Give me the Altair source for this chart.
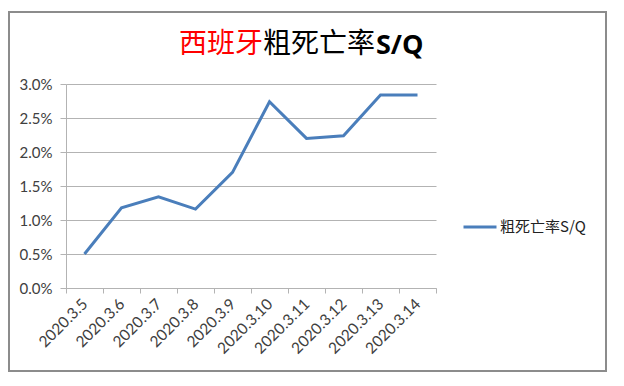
import altair as alt
import pandas as pd

dates = ["2020.3.5", "2020.3.6", "2020.3.7", "2020.3.8", "2020.3.9",
         "2020.3.10", "2020.3.11", "2020.3.12", "2020.3.13", "2020.3.14"]
rates = [0.0050, 0.0118, 0.0134, 0.0116, 0.0170,
         0.0274, 0.0220, 0.0224, 0.0284, 0.0284]
series_name = "粗死亡率S/Q"
y_ticks = [0, 0.005, 0.01, 0.015, 0.02, 0.025, 0.03]

df = pd.DataFrame({"date": dates, "rate": rates, "series": [series_name] * len(dates)})

W, H = 370, 204
LBL = "#404040"
GRID = "#b3b3b3"
CJK = "Noto Sans CJK SC"

line = alt.Chart(df).mark_line(strokeWidth=3).encode(
    x=alt.X("date:N", sort=None, bandPosition=0.5,
            scale=alt.Scale(type="band", paddingInner=0, paddingOuter=0),
            axis=alt.Axis(title=None, labelAngle=-45, labelAlign="right",
                          labelBaseline="middle", labelPadding=8,
                          labelFont="Lato", labelFontSize=15.5, labelColor=LBL,
                          tickBand="extent", tickSize=5, tickColor=GRID,
                          domainColor=GRID, grid=False)),
    y=alt.Y("rate:Q", scale=alt.Scale(domain=[0, 0.03]),
            axis=alt.Axis(title=None, format=".1%", values=y_ticks,
                          labelFont="Lato", labelFontSize=15, labelColor=LBL,
                          labelPadding=8, tickSize=6, tickColor=GRID,
                          domainColor=GRID, gridColor=GRID)),
    color=alt.Color("series:N",
                    scale=alt.Scale(domain=[series_name], range=["#4a7ebb"]),
                    legend=alt.Legend(title=None, orient="none", legendX=396, legendY=125,
                                      symbolType="stroke", symbolSize=1089,
                                      symbolStrokeWidth=3, padding=0,
                                      labelFont=CJK, labelFontSize=15,
                                      labelColor="#222222", labelOffset=2)),
)

one = alt.Data(values=[{}])

frame = alt.Chart(one).mark_rect(fill=None, stroke="#8c8c8c", strokeWidth=2).encode(
    x=alt.value(-57), x2=alt.value(540), y=alt.value(-72), y2=alt.value(287))

t1 = alt.Chart(one).mark_text(text="西班牙", font=CJK, fontSize=28, color="#ff0000",
                              align="right", baseline="middle").encode(
    x=alt.value(197), y=alt.value(-39))
t2 = alt.Chart(one).mark_text(text="粗死亡率", font=CJK, fontSize=28, color="#000000",
                              align="left", baseline="middle").encode(
    x=alt.value(197), y=alt.value(-39))
t3 = alt.Chart(one).mark_text(text="S/Q", font="Open Sans", fontSize=27, fontWeight="bold",
                              color="#000000", align="left", baseline="middle").encode(
    x=alt.value(310), y=alt.value(-38))

chart = alt.layer(frame, line, t1, t2, t3).properties(
    width=W, height=H,
    autosize=alt.AutoSizeParams(type="none"),
    padding={"left": 58, "top": 76, "right": 180, "bottom": 88},
).configure_view(stroke=None)

chart.save("out.html", embed_options={"renderer": "svg", "actions": False})
